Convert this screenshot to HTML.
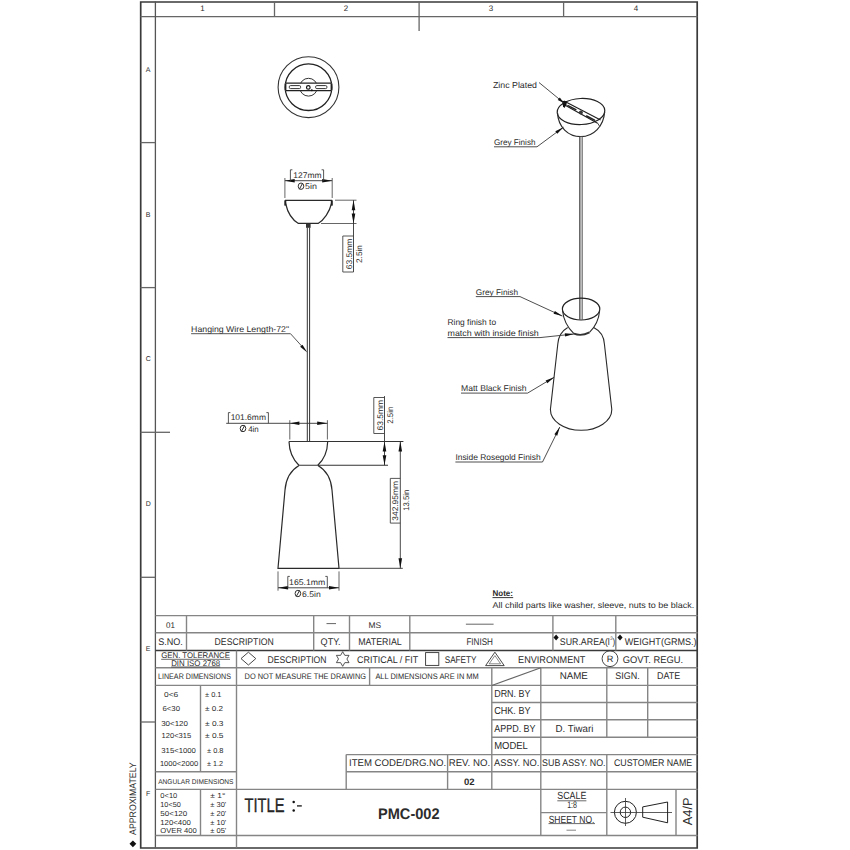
<!DOCTYPE html>
<html><head><meta charset="utf-8"><title>PMC-002</title>
<style>
html,body{margin:0;padding:0;background:#fff;width:850px;height:850px;overflow:hidden}
svg{display:block}
text{font-family:"Liberation Sans",sans-serif;fill:#2c2c2c}
svg{text-rendering:geometricPrecision}
</style></head><body>
<svg width="850" height="850" viewBox="0 0 850 850">
<rect width="850" height="850" fill="#fff"/>
<path d="M140.7,2.0 L697.2,2.0 L697.2,848 L140.7,848 Z" fill="none" stroke="#3a3a3a" stroke-width="1.7"/>
<line x1="140.5" y1="16.6" x2="697.5" y2="16.6" stroke="#666" stroke-width="1.3" />
<line x1="155.4" y1="1.5" x2="155.4" y2="847.5" stroke="#555" stroke-width="1.3" />
<line x1="274.5" y1="1.5" x2="274.5" y2="16.5" stroke="#666" stroke-width="1.3" />
<line x1="419.1" y1="1.5" x2="419.1" y2="31" stroke="#666" stroke-width="1.3" />
<line x1="563.6" y1="1.5" x2="563.6" y2="16.5" stroke="#666" stroke-width="1.3" />
<line x1="140.5" y1="142.6" x2="155.5" y2="142.6" stroke="#666" stroke-width="1.3" />
<line x1="140.5" y1="287.6" x2="155.5" y2="287.6" stroke="#666" stroke-width="1.3" />
<line x1="140.5" y1="432.3" x2="170" y2="432.3" stroke="#666" stroke-width="1.3" />
<line x1="140.5" y1="577.3" x2="155.5" y2="577.3" stroke="#666" stroke-width="1.3" />
<line x1="140.5" y1="722.0" x2="155.5" y2="722.0" stroke="#666" stroke-width="1.3" />
<text x="202.5" y="11.3" font-size="8" text-anchor="middle" >1</text>
<text x="346" y="11.3" font-size="8" text-anchor="middle" >2</text>
<text x="491" y="11.3" font-size="8" text-anchor="middle" >3</text>
<text x="636" y="11.3" font-size="8" text-anchor="middle" >4</text>
<text x="148.2" y="71.8" font-size="7" text-anchor="middle" >A</text>
<text x="148.2" y="216.60000000000002" font-size="7" text-anchor="middle" >B</text>
<text x="148.2" y="361.40000000000003" font-size="7" text-anchor="middle" >C</text>
<text x="148.2" y="506.20000000000005" font-size="7" text-anchor="middle" >D</text>
<text x="148.2" y="651.0" font-size="7" text-anchor="middle" >E</text>
<text x="148.2" y="795.8" font-size="7" text-anchor="middle" >F</text>
<circle cx="308.5" cy="87.2" r="30.4" fill="none" stroke="#333" stroke-width="1.1"/>
<circle cx="308.5" cy="87.2" r="23.3" fill="none" stroke="#222" stroke-width="1.3"/>
<circle cx="308.5" cy="87.2" r="8.9" fill="none" stroke="#333" stroke-width="1"/>
<rect x="285.5" y="83.2" width="46" height="7.4" fill="#fff"/>
<line x1="285.5" y1="83.2" x2="331.5" y2="83.2" stroke="#222" stroke-width="1.2" />
<line x1="285.5" y1="90.6" x2="331.5" y2="90.6" stroke="#222" stroke-width="1.2" />
<rect x="289.3" y="85.6" width="11.3" height="3" rx="1.2" fill="none" stroke="#333" stroke-width="1"/>
<rect x="315.6" y="85.6" width="11.3" height="3" rx="1.2" fill="none" stroke="#333" stroke-width="1"/>
<circle cx="308.3" cy="87.4" r="1.8" fill="none" stroke="#111" stroke-width="1.2"/>
<circle cx="311.8" cy="90.3" r="1" fill="#111"/>
<rect x="284.6" y="83.5" width="1.8" height="6.8" fill="#222"/>
<rect x="330.6" y="83.5" width="1.8" height="6.8" fill="#222"/>
<line x1="284.9" y1="200.4" x2="332.2" y2="200.4" stroke="#2a2a2a" stroke-width="1.3" />
<path d="M285.6,203.5 C287.5,212 292.5,220 298.4,223.4 L318.1,223.4 C324,220 329.5,212 331.5,203.5" stroke="#2a2a2a" stroke-width="1.2" fill="none" />
<rect x="284.3" y="200.4" width="2" height="5.2" fill="#222"/>
<rect x="330.8" y="200.4" width="2" height="5.2" fill="#222"/>
<rect x="306" y="224" width="4.6" height="3.8" fill="#333"/>
<line x1="307.3" y1="227.5" x2="307.3" y2="441.4" stroke="#333" stroke-width="1.0" />
<line x1="309.6" y1="227.5" x2="309.6" y2="441.4" stroke="#333" stroke-width="1.0" />
<line x1="284.9" y1="178.0" x2="284.9" y2="198" stroke="#555" stroke-width="0.9" />
<line x1="332.2" y1="178.0" x2="332.2" y2="198" stroke="#555" stroke-width="0.9" />
<line x1="284.9" y1="180.7" x2="332.2" y2="180.7" stroke="#333" stroke-width="0.9" />
<polygon points="284.90,180.70 294.70,178.90 294.70,182.50" fill="#111"/>
<polygon points="332.20,180.70 322.20,182.50 322.20,178.90" fill="#111"/>
<path d="M290.4,180.7 L290.4,169.8 L292.4,169.8 M323.6,180.7 L323.6,169.8 L321.6,169.8" stroke="#444" stroke-width="0.9" fill="none" />
<text x="307.5" y="177.8" font-size="8.2" text-anchor="middle" textLength="28.3" lengthAdjust="spacingAndGlyphs" >127mm</text>
<ellipse cx="301.0" cy="186.2" rx="2.8" ry="3.2" fill="none" stroke="#333" stroke-width="1"/>
<line x1="299.3" y1="189.29999999999998" x2="302.7" y2="183.1" stroke="#333" stroke-width="1"/>
<text x="305.0" y="189.1" font-size="8.2" textLength="11.9" lengthAdjust="spacingAndGlyphs" >5in</text>
<line x1="335" y1="200.2" x2="356.5" y2="200.2" stroke="#555" stroke-width="0.9" />
<line x1="321" y1="223.5" x2="356.5" y2="223.5" stroke="#555" stroke-width="0.9" />
<line x1="353.5" y1="200.2" x2="353.5" y2="272" stroke="#333" stroke-width="0.9" />
<polygon points="353.50,200.20 355.30,210.20 351.70,210.20" fill="#111"/>
<polygon points="353.50,223.50 351.70,213.50 355.30,213.50" fill="#111"/>
<path d="M353.5,236 L342.8,236 L342.8,272 L353.5,272" stroke="#444" stroke-width="0.9" fill="none" />
<text x="351.6" y="254" font-size="8.2" text-anchor="middle" textLength="30.5" lengthAdjust="spacingAndGlyphs" transform="rotate(-90 351.6 254)" >63.5mm</text>
<text x="362.2" y="254" font-size="8.2" text-anchor="middle" textLength="18" lengthAdjust="spacingAndGlyphs" transform="rotate(-90 362.2 254)" >2.5in</text>
<text x="191.1" y="331.5" font-size="8.4" textLength="97.9" lengthAdjust="spacingAndGlyphs" >Hanging Wire Length-72"</text>
<line x1="191.1" y1="333.7" x2="290.5" y2="333.7" stroke="#444" stroke-width="0.9" />
<line x1="290.5" y1="333.7" x2="303" y2="347.5" stroke="#444" stroke-width="0.9" />
<polygon points="307.30,352.50 300.11,346.87 302.49,344.73" fill="#111"/>
<line x1="289" y1="441.5" x2="403.4" y2="441.5" stroke="#333" stroke-width="1.1" />
<path d="M289,441.5 C289.3,452 293.5,460 298.9,465.2 M327.7,441.5 C327.4,452 323.5,460 317.8,465.2" stroke="#2a2a2a" stroke-width="1.2" fill="none" />
<line x1="298.9" y1="465.2" x2="388" y2="465.2" stroke="#333" stroke-width="1.1" />
<path d="M299,465.6 C291.5,470 286,478 285,490 L278,568.3 L339,568.3 L332,490 C331,478 325.5,470 318,465.6" stroke="#2a2a2a" stroke-width="1.2" fill="none" />
<line x1="339" y1="568.3" x2="402.8" y2="568.3" stroke="#444" stroke-width="1.0" />
<line x1="289.8" y1="420.2" x2="289.8" y2="439.5" stroke="#555" stroke-width="0.9" />
<line x1="327.4" y1="420.2" x2="327.4" y2="439.5" stroke="#555" stroke-width="0.9" />
<line x1="226.2" y1="423.3" x2="327.4" y2="423.3" stroke="#333" stroke-width="0.9" />
<polygon points="289.90,423.30 299.40,421.50 299.40,425.10" fill="#111"/>
<polygon points="327.40,423.30 317.20,425.10 317.20,421.50" fill="#111"/>
<path d="M228.4,423.3 L228.4,412.6 L230.4,412.6 M268.4,423.3 L268.4,412.6 L266.4,412.6" stroke="#444" stroke-width="0.9" fill="none" />
<text x="248.3" y="420.4" font-size="8.2" text-anchor="middle" textLength="35.3" lengthAdjust="spacingAndGlyphs" >101.6mm</text>
<ellipse cx="243.0" cy="428.5" rx="2.8" ry="3.2" fill="none" stroke="#333" stroke-width="1"/>
<line x1="241.3" y1="431.6" x2="244.7" y2="425.4" stroke="#333" stroke-width="1"/>
<text x="248.2" y="431.7" font-size="8.2" textLength="10.6" lengthAdjust="spacingAndGlyphs" >4in</text>
<line x1="384.5" y1="396.1" x2="384.5" y2="465.2" stroke="#333" stroke-width="0.9" />
<polygon points="384.50,441.60 386.30,451.60 382.70,451.60" fill="#111"/>
<polygon points="384.50,465.20 382.70,455.20 386.30,455.20" fill="#111"/>
<path d="M384.5,397.5 L373.8,397.5 L373.8,433.5 L384.5,433.5" stroke="#444" stroke-width="0.9" fill="none" />
<text x="382.8" y="415.2" font-size="8.2" text-anchor="middle" textLength="30.7" lengthAdjust="spacingAndGlyphs" transform="rotate(-90 382.8 415.2)" >63.5mm</text>
<text x="392.8" y="415.2" font-size="8.2" text-anchor="middle" textLength="17" lengthAdjust="spacingAndGlyphs" transform="rotate(-90 392.8 415.2)" >2.5in</text>
<line x1="400.3" y1="441.6" x2="400.3" y2="568.3" stroke="#333" stroke-width="0.9" />
<polygon points="400.30,441.60 402.10,451.60 398.50,451.60" fill="#111"/>
<polygon points="400.30,568.20 398.50,558.20 402.10,558.20" fill="#111"/>
<path d="M400.3,478.4 L390.3,478.4 L390.3,523.1 L400.3,523.1" stroke="#444" stroke-width="0.9" fill="none" />
<text x="398.5" y="500.9" font-size="8.2" text-anchor="middle" textLength="39.5" lengthAdjust="spacingAndGlyphs" transform="rotate(-90 398.5 500.9)" >342.95mm</text>
<text x="409" y="500.2" font-size="8.2" text-anchor="middle" textLength="21" lengthAdjust="spacingAndGlyphs" transform="rotate(-90 409 500.2)" >13.5in</text>
<line x1="278" y1="571.4" x2="278" y2="590.7" stroke="#555" stroke-width="0.9" />
<line x1="339" y1="571.4" x2="339" y2="590.7" stroke="#555" stroke-width="0.9" />
<line x1="278" y1="587.8" x2="339" y2="587.8" stroke="#333" stroke-width="0.9" />
<polygon points="278.00,587.80 288.10,586.00 288.10,589.60" fill="#111"/>
<polygon points="339.00,587.80 329.00,589.60 329.00,586.00" fill="#111"/>
<path d="M287.8,587.8 L287.8,576.4 L289.8,576.4 M327.3,587.8 L327.3,576.4 L325.3,576.4" stroke="#444" stroke-width="0.9" fill="none" />
<text x="307.2" y="584.8" font-size="8.2" text-anchor="middle" textLength="36.3" lengthAdjust="spacingAndGlyphs" >165.1mm</text>
<ellipse cx="297.9" cy="593.5" rx="2.8" ry="3.2" fill="none" stroke="#333" stroke-width="1"/>
<line x1="296.2" y1="596.6" x2="299.59999999999997" y2="590.4" stroke="#333" stroke-width="1"/>
<text x="302.0" y="596.5" font-size="8.2" textLength="18.7" lengthAdjust="spacingAndGlyphs" >6.5in</text>
<ellipse cx="581" cy="111.5" rx="23.8" ry="13" transform="rotate(-2.5 581 111.5)" fill="none" stroke="#222" stroke-width="1.2"/>
<path d="M557.5,113 C558.3,127 568,136.6 580.8,136.6 C593.5,136.6 603.8,126 604.6,112" stroke="#2a2a2a" stroke-width="1.2" fill="none" />
<line x1="564" y1="101.0" x2="600.6" y2="120.0" stroke="#1e1e1e" stroke-width="1.1" />
<line x1="565.2" y1="105.2" x2="597.6" y2="123.3" stroke="#1e1e1e" stroke-width="1.1" />
<line x1="568" y1="105.6" x2="575.8" y2="109.6" stroke="#222" stroke-width="1.6" stroke-linecap="round"/>
<line x1="586.6" y1="116.0" x2="594.6" y2="120.1" stroke="#222" stroke-width="1.6" stroke-linecap="round"/>
<circle cx="580.9" cy="112.6" r="2.0" fill="#3a3a3a"/>
<path d="M562.2,100.8 L567,101.5 L566.5,104.5 L564.5,108 L563,106.5 Z" fill="#111"/>
<line x1="597.5" y1="123" x2="599.8" y2="126.5" stroke="#444" stroke-width="1.0" />
<line x1="579.5" y1="136.8" x2="579.5" y2="319.5" stroke="#686868" stroke-width="1.0" />
<line x1="580.5" y1="136.8" x2="580.5" y2="319.5" stroke="#a4a4a4" stroke-width="1.0" />
<line x1="581.5" y1="136.8" x2="581.5" y2="319.5" stroke="#bdbdbd" stroke-width="1.0" />
<line x1="582.5" y1="136.8" x2="582.5" y2="319.5" stroke="#8a8a8a" stroke-width="1.0" />
<ellipse cx="581.1" cy="309.1" rx="18.7" ry="10.9" fill="none" stroke="#222" stroke-width="1.2"/>
<path d="M562.6,311 C563.5,320 568,328 573.9,333.6 M599.6,311 C598.8,320 594.5,327.5 589.5,332.4" stroke="#2a2a2a" stroke-width="1.1" fill="none" />
<path d="M573.9,333.6 Q581.3,336.5 589.5,332.4" stroke="#333" stroke-width="1.8" fill="none" />
<path d="M567.7,327.4 C561.5,331 558.3,337 557.8,344 L550.4,409.5 A30.7 20.8 0 0 0 611.8,409.5 L604.4,344 C604,337 600.8,331 593.7,327.4" stroke="#2a2a2a" stroke-width="1.1" fill="none" />
<text x="493" y="87.5" font-size="8.6" textLength="44" lengthAdjust="spacingAndGlyphs" >Zinc Plated</text>
<path d="M539,82.5 L564.2,103.2" stroke="#3a3a3a" stroke-width="0.9" fill="none" />
<polygon points="564.20,103.20 557.78,99.99 559.81,97.52" fill="#111"/>
<text x="494" y="144.5" font-size="8.2" textLength="41.5" lengthAdjust="spacingAndGlyphs" >Grey Finish</text>
<path d="M494,146.8 L537,146.8 L563.5,127.2" stroke="#3a3a3a" stroke-width="0.9" fill="none" />
<polygon points="563.50,127.20 557.22,133.84 555.31,131.27" fill="#111"/>
<text x="475.8" y="294.7" font-size="8.2" textLength="42.3" lengthAdjust="spacingAndGlyphs" >Grey Finish</text>
<path d="M475.8,296.6 L520,296.6 L562.4,316.1" stroke="#3a3a3a" stroke-width="0.9" fill="none" />
<polygon points="562.40,316.10 553.55,313.79 554.89,310.89" fill="#111"/>
<text x="447.5" y="325.2" font-size="8.4" textLength="48.6" lengthAdjust="spacingAndGlyphs" >Ring finish to</text>
<text x="447.5" y="336.1" font-size="8.4" textLength="91.3" lengthAdjust="spacingAndGlyphs" >match with inside finish</text>
<path d="M447.5,337.6 L540,337.6 L573.9,334.0" stroke="#3a3a3a" stroke-width="0.9" fill="none" />
<polygon points="573.90,334.00 565.12,336.54 564.78,333.36" fill="#111"/>
<text x="461" y="391.2" font-size="8.4" textLength="65.6" lengthAdjust="spacingAndGlyphs" >Matt Black Finish</text>
<path d="M461,393.1 L527.6,393.1 L554.2,377.2" stroke="#3a3a3a" stroke-width="0.9" fill="none" />
<polygon points="554.20,377.20 547.30,383.19 545.65,380.44" fill="#111"/>
<text x="455.4" y="459.8" font-size="8.4" textLength="85.2" lengthAdjust="spacingAndGlyphs" >Inside Rosegold Finish</text>
<path d="M455.4,462 L542.5,462 L559.8,427.0" stroke="#3a3a3a" stroke-width="0.9" fill="none" />
<polygon points="559.80,427.00 557.25,435.78 554.38,434.36" fill="#111"/>
<text x="492.5" y="596.2" font-size="8.2" textLength="20.5" lengthAdjust="spacingAndGlyphs" font-weight="bold" fill="#111" >Note:</text>
<line x1="492.5" y1="597.6" x2="513.2" y2="597.6" stroke="#222" stroke-width="0.9" />
<text x="492.4" y="607.8" font-size="8.3" textLength="201.9" lengthAdjust="spacingAndGlyphs" >All child parts like washer, sleeve, nuts to be black.</text>
<line x1="155.5" y1="615.6" x2="697.5" y2="615.6" stroke="#858585" stroke-width="1.4" />
<line x1="155.5" y1="632.7" x2="697.5" y2="632.7" stroke="#858585" stroke-width="1.4" />
<line x1="155.5" y1="667.8" x2="697.5" y2="667.8" stroke="#858585" stroke-width="1.4" />
<line x1="155.5" y1="685.4" x2="697.5" y2="685.4" stroke="#858585" stroke-width="1.4" />
<line x1="491.8" y1="702.5" x2="697.5" y2="702.5" stroke="#858585" stroke-width="1.4" />
<line x1="491.8" y1="719.7" x2="697.5" y2="719.7" stroke="#858585" stroke-width="1.4" />
<line x1="491.8" y1="737.3" x2="697.5" y2="737.3" stroke="#858585" stroke-width="1.4" />
<line x1="346.2" y1="754.6" x2="697.5" y2="754.6" stroke="#858585" stroke-width="1.4" />
<line x1="155.5" y1="771.8" x2="236.5" y2="771.8" stroke="#858585" stroke-width="1.4" />
<line x1="346.2" y1="771.8" x2="697.5" y2="771.8" stroke="#858585" stroke-width="1.4" />
<line x1="155.5" y1="789.4" x2="697.5" y2="789.4" stroke="#858585" stroke-width="1.4" />
<line x1="540.8" y1="812.6" x2="606.8" y2="812.6" stroke="#858585" stroke-width="1.4" />
<line x1="155.5" y1="835.5" x2="697.5" y2="835.5" stroke="#858585" stroke-width="1.4" />
<line x1="155.5" y1="650.5" x2="697.5" y2="650.5" stroke="#3a3a3a" stroke-width="1.4" />
<line x1="186.5" y1="615.6" x2="186.5" y2="650.5" stroke="#858585" stroke-width="1.4" />
<line x1="313.7" y1="615.6" x2="313.7" y2="650.5" stroke="#858585" stroke-width="1.4" />
<line x1="349.5" y1="615.6" x2="349.5" y2="650.5" stroke="#858585" stroke-width="1.4" />
<line x1="409.8" y1="615.6" x2="409.8" y2="650.5" stroke="#858585" stroke-width="1.4" />
<line x1="552.9" y1="615.6" x2="552.9" y2="650.5" stroke="#858585" stroke-width="1.4" />
<line x1="615.8" y1="615.6" x2="615.8" y2="650.5" stroke="#858585" stroke-width="1.4" />
<line x1="236.5" y1="650.5" x2="236.5" y2="847.5" stroke="#858585" stroke-width="1.4" />
<line x1="369.6" y1="667.8" x2="369.6" y2="685.4" stroke="#858585" stroke-width="1.4" />
<line x1="491.8" y1="667.8" x2="491.8" y2="789.4" stroke="#858585" stroke-width="1.4" />
<line x1="540.8" y1="667.8" x2="540.8" y2="835.5" stroke="#858585" stroke-width="1.4" />
<line x1="606.8" y1="667.8" x2="606.8" y2="737.3" stroke="#858585" stroke-width="1.4" />
<line x1="606.8" y1="754.6" x2="606.8" y2="835.5" stroke="#858585" stroke-width="1.4" />
<line x1="647.7" y1="667.8" x2="647.7" y2="737.3" stroke="#858585" stroke-width="1.4" />
<line x1="200.5" y1="685.4" x2="200.5" y2="771.8" stroke="#858585" stroke-width="1.4" />
<line x1="200.5" y1="789.4" x2="200.5" y2="835.5" stroke="#858585" stroke-width="1.4" />
<line x1="346.2" y1="754.6" x2="346.2" y2="789.4" stroke="#858585" stroke-width="1.4" />
<line x1="447.6" y1="754.6" x2="447.6" y2="789.4" stroke="#858585" stroke-width="1.4" />
<line x1="676.0" y1="789.4" x2="676.0" y2="835.5" stroke="#858585" stroke-width="1.4" />
<line x1="491.8" y1="685.4" x2="540.8" y2="667.8" stroke="#666" stroke-width="1.1" />
<text x="166" y="627.5" font-size="8.2" textLength="8.9" lengthAdjust="spacingAndGlyphs" >01</text>
<line x1="326.5" y1="623.6" x2="336" y2="623.6" stroke="#555" stroke-width="0.9" />
<text x="368.4" y="627.6" font-size="8.2" textLength="12.6" lengthAdjust="spacingAndGlyphs" >MS</text>
<line x1="465.9" y1="624.2" x2="493.6" y2="624.2" stroke="#555" stroke-width="0.9" />
<text x="158.2" y="645.2" font-size="9.7" textLength="24.7" lengthAdjust="spacingAndGlyphs" >S.NO.</text>
<text x="214.6" y="645.2" font-size="9.7" textLength="59.2" lengthAdjust="spacingAndGlyphs" >DESCRIPTION</text>
<text x="320.6" y="645.2" font-size="9.7" textLength="20" lengthAdjust="spacingAndGlyphs" >QTY.</text>
<text x="358.2" y="645.2" font-size="9.7" textLength="43.6" lengthAdjust="spacingAndGlyphs" >MATERIAL</text>
<text x="466.4" y="645.2" font-size="9.7" textLength="26.6" lengthAdjust="spacingAndGlyphs" >FINISH</text>
<polygon points="556.1,634.5 558.7,637.5 556.1,640.5 553.5,637.5" fill="#111"/>
<text x="559.8" y="645.2" font-size="9.7" textLength="50" lengthAdjust="spacingAndGlyphs" >SUR.AREA(l</text>
<text x="610.2" y="640.1" font-size="5" textLength="2.5" lengthAdjust="spacingAndGlyphs" >2</text>
<text x="612.6" y="645.2" font-size="9.7" textLength="2.7" lengthAdjust="spacingAndGlyphs" >)</text>
<polygon points="620.0,634.5 622.6,637.5 620.0,640.5 617.4,637.5" fill="#111"/>
<text x="624.7" y="645.2" font-size="9.7" textLength="71.9" lengthAdjust="spacingAndGlyphs" >WEIGHT(GRMS.)</text>
<text x="161.2" y="658.2" font-size="8.2" textLength="68.8" lengthAdjust="spacingAndGlyphs" >GEN. TOLERANCE</text>
<line x1="161.2" y1="659.3" x2="230" y2="659.3" stroke="#444" stroke-width="0.8" />
<text x="171.2" y="665.9" font-size="8.2" textLength="49" lengthAdjust="spacingAndGlyphs" >DIN ISO 2768</text>
<line x1="171.2" y1="667.0" x2="220.2" y2="667.0" stroke="#444" stroke-width="0.8" />
<polygon points="248.4,652.2 255.8,658.6 248.4,665.0 241.0,658.6" fill="none" stroke="#333" stroke-width="0.9"/>
<text x="267.6" y="663.3" font-size="9.7" textLength="58.9" lengthAdjust="spacingAndGlyphs" >DESCRIPTION</text>
<polygon points="342.70,651.70 344.80,655.36 349.02,655.35 346.90,659.00 349.02,662.65 344.80,662.64 342.70,666.30 340.60,662.64 336.38,662.65 338.50,659.00 336.38,655.35 340.60,655.36" fill="none" stroke="#444" stroke-width="0.9"/>
<text x="357" y="663.3" font-size="9.7" textLength="61.2" lengthAdjust="spacingAndGlyphs" >CRITICAL / FIT</text>
<rect x="425.6" y="652.6" width="13.2" height="12.8" fill="none" stroke="#333" stroke-width="0.9"/>
<text x="444.7" y="663.3" font-size="9.7" textLength="31.8" lengthAdjust="spacingAndGlyphs" >SAFETY</text>
<polygon points="494.9,652.2 504.2,665.6 485.6,665.6" fill="none" stroke="#333" stroke-width="0.9"/>
<polygon points="494.9,655.6 500.6,663.8 489.2,663.8" fill="none" stroke="#555" stroke-width="0.7"/>
<text x="518.1" y="663.3" font-size="9.7" textLength="67.3" lengthAdjust="spacingAndGlyphs" >ENVIRONMENT</text>
<circle cx="610" cy="658.7" r="7.9" fill="none" stroke="#333" stroke-width="0.9"/>
<text x="610.1" y="662.3" font-size="9.2" text-anchor="middle" >R</text>
<text x="622.8" y="663.3" font-size="9.7" textLength="60.3" lengthAdjust="spacingAndGlyphs" >GOVT. REGU.</text>
<text x="158" y="679.2" font-size="8.0" textLength="73" lengthAdjust="spacingAndGlyphs" >LINEAR DIMENSIONS</text>
<text x="244.6" y="679.2" font-size="8.0" textLength="121.4" lengthAdjust="spacingAndGlyphs" >DO NOT MEASURE THE DRAWING</text>
<text x="375.4" y="679.2" font-size="8.0" textLength="103.4" lengthAdjust="spacingAndGlyphs" >ALL DIMENSIONS ARE IN MM</text>
<text x="559.7" y="678.7" font-size="9.7" textLength="28.2" lengthAdjust="spacingAndGlyphs" >NAME</text>
<text x="615.3" y="678.7" font-size="9.7" textLength="24.5" lengthAdjust="spacingAndGlyphs" >SIGN.</text>
<text x="657.1" y="678.7" font-size="9.7" textLength="23.2" lengthAdjust="spacingAndGlyphs" >DATE</text>
<text x="494.2" y="696.8" font-size="10.2" textLength="36.3" lengthAdjust="spacingAndGlyphs" >DRN. BY</text>
<text x="494.2" y="714.4" font-size="10.2" textLength="36.3" lengthAdjust="spacingAndGlyphs" >CHK. BY</text>
<text x="494.2" y="731.6" font-size="10.2" textLength="41.4" lengthAdjust="spacingAndGlyphs" >APPD. BY</text>
<text x="555.6" y="731.6" font-size="10.2" textLength="37.8" lengthAdjust="spacingAndGlyphs" >D. Tiwari</text>
<text x="494.2" y="749.2" font-size="10.2" textLength="33.7" lengthAdjust="spacingAndGlyphs" >MODEL</text>
<text x="164" y="696.5" font-size="7.2" textLength="14.2" lengthAdjust="spacingAndGlyphs" >0<6</text>
<text x="205" y="696.5" font-size="7.2" textLength="16.5" lengthAdjust="spacingAndGlyphs" >± 0.1</text>
<text x="162.5" y="711.2" font-size="7.2" textLength="17.5" lengthAdjust="spacingAndGlyphs" >6<30</text>
<text x="205" y="711.2" font-size="7.2" textLength="18" lengthAdjust="spacingAndGlyphs" >± 0.2</text>
<text x="161.2" y="725.5" font-size="7.2" textLength="26.8" lengthAdjust="spacingAndGlyphs" >30<120</text>
<text x="205" y="725.5" font-size="7.2" textLength="18.5" lengthAdjust="spacingAndGlyphs" >± 0.3</text>
<text x="161.6" y="738.0" font-size="7.2" textLength="29.6" lengthAdjust="spacingAndGlyphs" >120<315</text>
<text x="205" y="738.0" font-size="7.2" textLength="18.5" lengthAdjust="spacingAndGlyphs" >± 0.5</text>
<text x="161.3" y="752.8" font-size="7.2" textLength="34.6" lengthAdjust="spacingAndGlyphs" >315<1000</text>
<text x="207" y="752.8" font-size="7.2" textLength="16.5" lengthAdjust="spacingAndGlyphs" >± 0.8</text>
<text x="159.9" y="765.5" font-size="7.2" textLength="38.3" lengthAdjust="spacingAndGlyphs" >1000<2000</text>
<text x="207" y="765.5" font-size="7.2" textLength="16" lengthAdjust="spacingAndGlyphs" >± 1.2</text>
<text x="158.2" y="783.6" font-size="7.0" textLength="75.3" lengthAdjust="spacingAndGlyphs" >ANGULAR DIMENSIONS</text>
<text x="160.3" y="798.0" font-size="7.2" textLength="17" lengthAdjust="spacingAndGlyphs" >0<10</text>
<text x="160.3" y="806.8" font-size="7.2" textLength="20.5" lengthAdjust="spacingAndGlyphs" >10<50</text>
<text x="160.3" y="815.6" font-size="7.2" textLength="27" lengthAdjust="spacingAndGlyphs" >50<120</text>
<text x="160.3" y="824.6" font-size="7.2" textLength="30.5" lengthAdjust="spacingAndGlyphs" >120<400</text>
<text x="160.3" y="833.3" font-size="7.2" textLength="36.4" lengthAdjust="spacingAndGlyphs" >OVER 400</text>
<text x="210.3" y="798.0" font-size="7.2" textLength="15" lengthAdjust="spacingAndGlyphs" >± 1°</text>
<text x="210.3" y="806.8" font-size="7.2" textLength="16" lengthAdjust="spacingAndGlyphs" >± 30'</text>
<text x="210.3" y="815.6" font-size="7.2" textLength="16" lengthAdjust="spacingAndGlyphs" >± 20'</text>
<text x="210.3" y="824.6" font-size="7.2" textLength="16" lengthAdjust="spacingAndGlyphs" >± 10'</text>
<text x="210.3" y="833.3" font-size="7.2" textLength="16" lengthAdjust="spacingAndGlyphs" >± 05'</text>
<text x="349" y="766.4" font-size="9.7" textLength="97.1" lengthAdjust="spacingAndGlyphs" >ITEM CODE/DRG.NO.</text>
<text x="448.7" y="766.4" font-size="9.7" textLength="41.4" lengthAdjust="spacingAndGlyphs" >REV. NO.</text>
<text x="494" y="766.4" font-size="9.7" textLength="45.3" lengthAdjust="spacingAndGlyphs" >ASSY. NO.</text>
<text x="542.1" y="766.4" font-size="9.7" textLength="63.4" lengthAdjust="spacingAndGlyphs" >SUB ASSY. NO.</text>
<text x="614" y="766.4" font-size="9.7" textLength="78.2" lengthAdjust="spacingAndGlyphs" >CUSTOMER NAME</text>
<text x="464" y="784.8" font-size="9.3" textLength="10.6" lengthAdjust="spacingAndGlyphs" font-weight="bold" fill="#111" >02</text>
<text x="244.4" y="811.6" font-size="19.8" textLength="40.1" lengthAdjust="spacingAndGlyphs" fill="#111" stroke="#111" stroke-width="0.35">TITLE</text>
<circle cx="293.7" cy="801.9" r="1.25" fill="#111"/>
<circle cx="293.7" cy="810.4" r="1.25" fill="#111"/>
<line x1="297.0" y1="805.9" x2="301.8" y2="805.9" stroke="#222" stroke-width="1.4" />
<text x="378" y="819.4" font-size="15.4" textLength="61.6" lengthAdjust="spacingAndGlyphs" font-weight="bold" fill="#111" >PMC-002</text>
<text x="557.3" y="799.3" font-size="10.4" textLength="29.1" lengthAdjust="spacingAndGlyphs" >SCALE</text>
<line x1="557.3" y1="800.8" x2="586.4" y2="800.8" stroke="#444" stroke-width="0.8" />
<text x="567.2" y="808.4" font-size="9.6" textLength="9.8" lengthAdjust="spacingAndGlyphs" >1:8</text>
<text x="548.7" y="822.5" font-size="10.3" textLength="45.7" lengthAdjust="spacingAndGlyphs" >SHEET NO.</text>
<line x1="548.5" y1="823.6" x2="595" y2="823.6" stroke="#444" stroke-width="0.8" />
<line x1="566.5" y1="830.2" x2="576" y2="830.2" stroke="#666" stroke-width="0.8" />
<circle cx="625.4" cy="812.3" r="11" fill="none" stroke="#222" stroke-width="1"/>
<circle cx="625.4" cy="812.3" r="5.2" fill="none" stroke="#222" stroke-width="1"/>
<line x1="610.5" y1="812.5" x2="672" y2="812.5" stroke="#333" stroke-width="0.8" />
<line x1="625.5" y1="798" x2="625.5" y2="826" stroke="#333" stroke-width="0.8" />
<polygon points="642.7,806.9 667.6,802 667.6,822.8 642.7,817.2" fill="none" stroke="#222" stroke-width="1"/>
<text x="691.6" y="811.4" font-size="13" text-anchor="middle" textLength="27.7" lengthAdjust="spacingAndGlyphs" transform="rotate(-90 691.6 811.4)" fill="#1a1a1a" >A4/P</text>
<text x="135.7" y="798.6" font-size="9.5" text-anchor="middle" textLength="72.6" lengthAdjust="spacingAndGlyphs" transform="rotate(-90 135.7 798.6)" >APPROXIMATELY</text>
<polygon points="132.9,840.4 136.3,843.8 132.9,847.2 129.5,843.8" fill="#111"/>
</svg></body></html>
